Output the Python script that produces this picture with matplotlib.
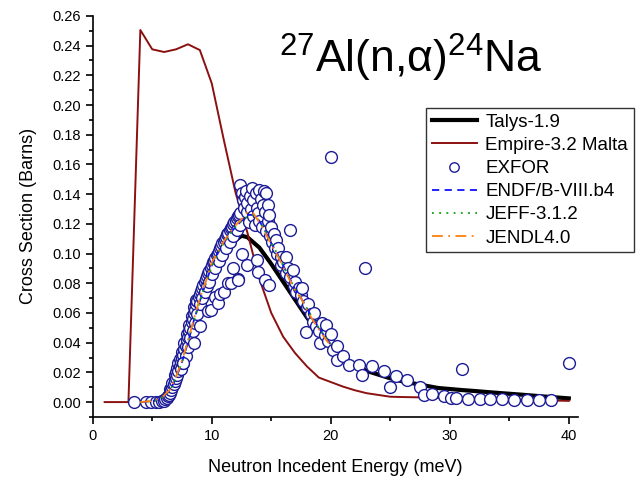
import matplotlib
matplotlib.use("Agg")
import matplotlib.pyplot as plt
from matplotlib.ticker import MultipleLocator, FormatStrFormatter

plt.rcParams['font.family'] = ['Liberation Sans', 'DejaVu Sans']
plt.rcParams['mathtext.fontset'] = 'custom'
plt.rcParams['mathtext.rm'] = 'Liberation Sans'
plt.rcParams['mathtext.it'] = 'Liberation Sans:italic'

# ---- Data ----
talys_E = [4, 5, 6, 7, 8, 9, 10, 11, 12, 12.5, 13, 14, 15, 16, 17, 18, 19, 20,
           21, 22, 23, 24, 25, 26, 27, 28, 29, 30, 31, 32, 34, 36, 38, 40]
talys_xs = [0.0, 0.0005, 0.004, 0.017, 0.039, 0.063, 0.083, 0.099, 0.109, 0.112,
            0.111, 0.104, 0.093, 0.081, 0.069, 0.057, 0.046, 0.037, 0.031, 0.025,
            0.021, 0.0185, 0.016, 0.014, 0.0125, 0.011, 0.0095, 0.0088, 0.0081,
            0.0075, 0.0062, 0.005, 0.0037, 0.0025]

empire_E = [1, 2, 3, 4, 5, 6, 7, 8, 9, 10, 11, 12, 13, 14, 15, 16, 17, 18, 19, 20,
            21, 22, 23, 24, 25, 26, 28, 30, 32, 34, 36, 38, 40]
empire_xs = [0.0, 0.0, 0.0, 0.2505, 0.2375, 0.2357, 0.2375, 0.2409, 0.237, 0.2146,
             0.177, 0.141, 0.114, 0.083, 0.060, 0.044, 0.033, 0.024, 0.0165, 0.0135,
             0.0105, 0.008, 0.006, 0.0048, 0.0036, 0.0034, 0.0031, 0.0027, 0.0022,
             0.0018, 0.0015, 0.0012, 0.0008]

exfor_E = [3.5, 4.5, 4.9, 5.3, 5.6, 5.8, 6.0, 6.1, 6.2, 6.3, 6.4, 6.5, 6.5, 6.6, 6.7,
           6.7, 6.8, 6.9, 6.9, 7.0, 7.0, 7.1, 7.1, 7.2, 7.2, 7.3, 7.3, 7.4, 7.4, 7.5,
           7.5, 7.6, 7.6, 7.7, 7.7, 7.8, 7.8, 7.9, 7.9, 8.0, 8.0, 8.1, 8.1, 8.2, 8.2,
           8.3, 8.3, 8.4, 8.4, 8.5, 8.5, 8.6, 8.6, 8.7, 8.7, 8.8, 8.8, 8.9, 9.0, 9.0,
           9.1, 9.2, 9.2, 9.3, 9.4, 9.4, 9.5, 9.6, 9.6, 9.7, 9.8, 9.8, 9.9, 10.0, 10.0,
           10.1, 10.2, 10.3, 10.3, 10.4, 10.5, 10.6, 10.6, 10.7, 10.8, 10.9, 10.9, 11.0,
           11.1, 11.2, 11.2, 11.3, 11.4, 11.5, 11.5, 11.6, 11.7, 11.8, 11.8, 11.9, 12.0,
           12.1, 12.1, 12.2, 12.3, 12.4, 12.4,
           12.4, 12.5, 12.6, 12.7, 12.8, 12.9, 13.0, 13.0, 13.1, 13.2, 13.3, 13.4, 13.5,
           13.5, 13.6, 13.7, 13.8, 13.9, 14.0, 14.0, 14.1, 14.2, 14.3, 14.4, 14.5, 14.6,
           14.6, 14.7, 14.7, 14.8, 14.9, 15.0, 15.1, 15.2, 15.3, 15.4, 15.5, 15.6, 15.8,
           15.8, 16.0, 16.2, 16.2, 16.4, 16.6, 16.6, 16.8, 16.9, 17.0, 17.1, 17.3, 17.5,
           17.6, 17.7, 17.9, 18.0, 18.1, 18.3, 18.5, 18.6, 18.8, 19.0, 19.1, 19.3, 19.5,
           19.6, 19.8, 20.0, 20.0, 20.2, 20.5, 20.5, 21.0, 21.5, 22.4, 22.6, 22.9, 23.5,
           24.5, 25.0, 25.5, 26.4, 27.5, 27.8, 28.5, 29.5, 30.1, 30.5, 31.0, 31.5, 32.5,
           33.4, 34.4, 35.4, 36.5, 37.5, 38.5, 40.0,
           7.6, 8.5, 9.0, 9.7, 9.9, 10.3, 10.5, 10.7, 11.0, 11.4, 11.6, 11.8, 12.2, 12.2,
           12.5, 12.96, 13.8, 13.9, 14.5, 14.78]
exfor_xs = [0.0, 0.0, 0.0, 0.0, 0.000, 0.001, 0.001, 0.002, 0.003, 0.004, 0.005, 0.006,
            0.009, 0.008, 0.010, 0.013, 0.012, 0.014, 0.018, 0.016, 0.020, 0.018, 0.023,
            0.021, 0.026, 0.024, 0.029, 0.027, 0.022, 0.030, 0.034, 0.032, 0.026, 0.036,
            0.040, 0.038, 0.031, 0.042, 0.046, 0.044, 0.037, 0.048, 0.052, 0.050, 0.043,
            0.054, 0.058, 0.056, 0.048, 0.060, 0.064, 0.062, 0.053, 0.066, 0.069, 0.068,
            0.059, 0.071, 0.073, 0.066, 0.075, 0.077, 0.070, 0.079, 0.081, 0.074, 0.083,
            0.085, 0.078, 0.087, 0.088, 0.081, 0.090, 0.092, 0.086, 0.094, 0.095, 0.097,
            0.090, 0.099, 0.100, 0.102, 0.095, 0.104, 0.105, 0.107, 0.099, 0.108, 0.110,
            0.111, 0.104, 0.113, 0.114, 0.116, 0.108, 0.117, 0.118, 0.120, 0.112, 0.121,
            0.122, 0.124, 0.116, 0.125, 0.126, 0.127, 0.119,
            0.146, 0.141, 0.136, 0.131, 0.138, 0.142, 0.128, 0.134, 0.121, 0.139, 0.130,
            0.144, 0.125, 0.136, 0.119, 0.141, 0.131, 0.127, 0.143, 0.122, 0.137, 0.118,
            0.133, 0.142, 0.128, 0.141, 0.115, 0.133, 0.122, 0.126, 0.112, 0.118, 0.108,
            0.113, 0.104, 0.109, 0.100, 0.104, 0.098, 0.092, 0.094, 0.098, 0.087, 0.090,
            0.116, 0.084, 0.089, 0.078, 0.081, 0.074, 0.077, 0.072, 0.077, 0.068, 0.047,
            0.064, 0.066, 0.059, 0.054, 0.060, 0.051, 0.048, 0.040, 0.053, 0.045, 0.052,
            0.041, 0.046, 0.165, 0.035, 0.038, 0.028, 0.031, 0.025, 0.025, 0.018, 0.090,
            0.024, 0.021, 0.010, 0.0175, 0.015, 0.010, 0.005, 0.0054, 0.004, 0.003, 0.003,
            0.022, 0.002, 0.002, 0.002, 0.002, 0.0013, 0.0013, 0.0013, 0.0013, 0.026,
            0.026, 0.040, 0.051, 0.061, 0.062, 0.071, 0.067, 0.073, 0.074, 0.080, 0.080,
            0.090, 0.083, 0.082, 0.100, 0.092, 0.0956, 0.0877, 0.082, 0.0788]

endf_E = [4, 5, 5.5, 6, 6.5, 7, 7.5, 8, 8.5, 9, 9.5, 10, 10.5, 11, 11.5, 12, 12.5, 13,
          13.5, 14, 14.5, 15, 15.5, 16, 16.5, 17, 17.5, 18, 18.5, 19, 19.5, 20]
endf_xs = [0.0, 0.0005, 0.0015, 0.004, 0.008, 0.016, 0.027, 0.040, 0.055, 0.068, 0.080,
           0.092, 0.100, 0.107, 0.113, 0.118, 0.122, 0.126, 0.126, 0.122, 0.115, 0.107,
           0.100, 0.092, 0.084, 0.076, 0.070, 0.063, 0.056, 0.050, 0.044, 0.039]

jeff_E = [4, 5, 5.5, 6, 6.5, 7, 7.5, 8, 8.5, 9, 9.5, 10, 10.5, 11, 11.5, 12, 12.5, 13,
          13.5, 14, 14.5, 15, 15.5, 16, 16.5, 17, 17.5, 18, 18.5, 19, 19.5, 20]
jeff_xs = [0.0, 0.0005, 0.0015, 0.004, 0.008, 0.016, 0.027, 0.041, 0.055, 0.068, 0.080,
           0.091, 0.100, 0.107, 0.113, 0.118, 0.122, 0.125, 0.126, 0.122, 0.115, 0.107,
           0.100, 0.092, 0.084, 0.076, 0.070, 0.063, 0.056, 0.050, 0.044, 0.039]

jendl_E = [4, 5, 5.5, 6, 6.5, 7, 7.5, 8, 8.5, 9, 9.5, 10, 10.5, 11, 11.5, 12, 12.5, 13,
           13.5, 14, 14.5, 15, 15.5, 16, 16.5, 17, 17.5, 18, 18.5, 19, 19.5, 20]
jendl_xs = [0.0, 0.0008, 0.0018, 0.0045, 0.0085, 0.017, 0.028, 0.041, 0.056, 0.070,
            0.081, 0.094, 0.101, 0.108, 0.114, 0.119, 0.123, 0.128, 0.127, 0.121, 0.114,
            0.106, 0.099, 0.091, 0.083, 0.075, 0.070, 0.062, 0.055, 0.049, 0.043, 0.038]

# ---- Figure ----
fig = plt.figure(figsize=(6.44, 4.82), dpi=100)
ax = fig.add_axes([0.144, 0.135, 0.754, 0.832])

ax.plot(talys_E, talys_xs, color='black', lw=3.0, label='Talys-1.9', zorder=2)
ax.plot(empire_E, empire_xs, color='#8b1010', lw=1.4, label='Empire-3.2 Malta', zorder=2)
ax.plot(exfor_E, exfor_xs, linestyle='none', marker='o', ms=8.5, mfc='white',
        mec='#1c1c96', mew=1.0, label='EXFOR', zorder=3)
ax.plot(endf_E, endf_xs, color='#1010ff', lw=1.3, ls=(0, (4, 3)), label='ENDF/B-VIII.b4', zorder=4)
ax.plot(jeff_E, jeff_xs, color='#10a010', lw=1.3, ls=(0, (1, 3)), label='JEFF-3.1.2', zorder=4)
ax.plot(jendl_E, jendl_xs, color='#ff7f0e', lw=1.3, ls=(0, (6, 3, 1, 3)), label='JENDL4.0', zorder=4)

ax.set_xlim(0, 40.8)
ax.set_ylim(-0.01, 0.26)
ax.xaxis.set_major_locator(MultipleLocator(10))
ax.xaxis.set_minor_locator(MultipleLocator(5))
ax.yaxis.set_major_locator(MultipleLocator(0.02))
ax.yaxis.set_minor_locator(MultipleLocator(0.01))
ax.yaxis.set_major_formatter(FormatStrFormatter('%.2f'))
ax.spines['top'].set_visible(False)
ax.spines['right'].set_visible(False)
for s in ('left', 'bottom'):
    ax.spines[s].set_linewidth(1.2)
ax.tick_params(which='major', direction='out', length=5, width=1.2, labelsize=10.5)
ax.tick_params(which='minor', direction='out', length=3, width=1.2)

ax.set_xlabel('Neutron Incedent Energy (meV)', fontsize=13, labelpad=12)
ax.set_ylabel('Cross Section (Barns)', fontsize=13, labelpad=11)

ax.text(0.655, 0.895, r'$^{27}$Al(n,α)$^{24}$Na', transform=ax.transAxes,
        fontsize=32, ha='center', va='center')

leg = ax.legend(loc='upper left', bbox_to_anchor=(0.687, 0.77), fontsize=13.5,
                frameon=True, fancybox=False, edgecolor='black', handlelength=2.4,
                labelspacing=0.32, borderpad=0.3, handletextpad=0.45, borderaxespad=0,
                markerscale=0.8)
leg.get_frame().set_linewidth(1.0)

fig.savefig('out.png', dpi=100)
